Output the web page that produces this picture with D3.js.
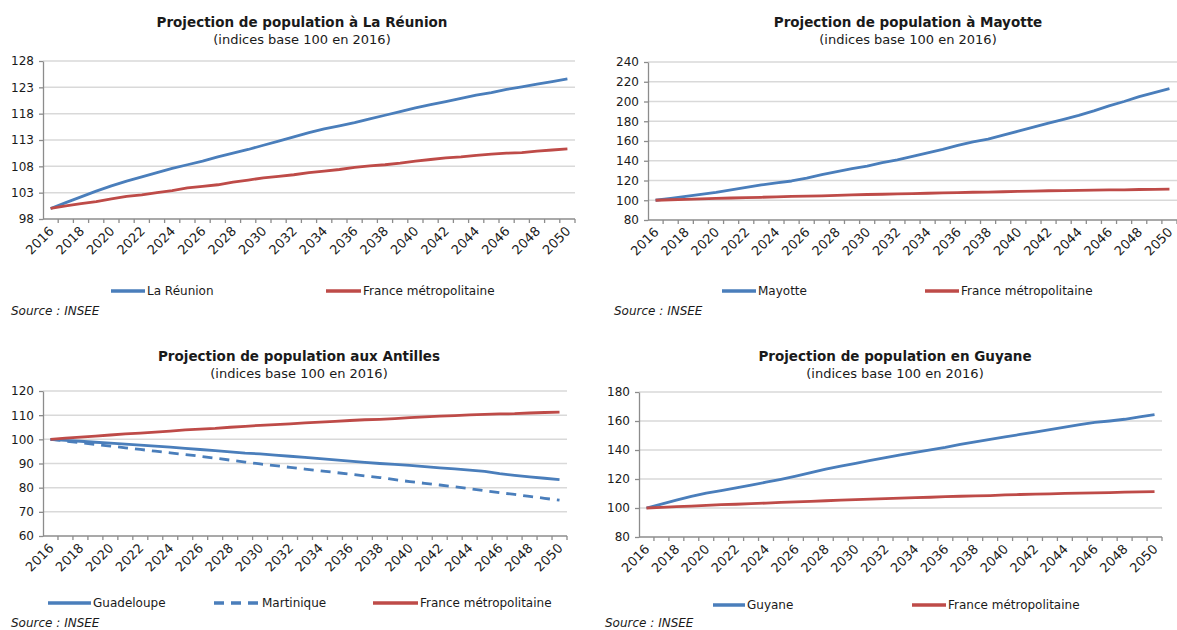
<!doctype html>
<html>
<head>
<meta charset="UTF-8">
<title>Projections de population</title>
<script src="https://d3js.org/d3.v7.min.js"></script>
<style>
	body {
		margin: 0;
		background: #fff;
	}
	.chart text {
		font-family: 'DejaVu Sans', sans-serif;
		fill: #1a1a1a;
	}
	.grid line {
		stroke: #d9d9d9;
		stroke-width: 1.5;
	}
	.axis path, .axis line {
		stroke: #8c8c8c;
		stroke-width: 1.3;
	}
	.axis text {
		font-size: 12px;
	}
	.axis .xl {
		font-size: 13px;
	}
	.title {
		font-size: 13.5px;
		font-weight: bold;
	}
	.subtitle {
		font-size: 13px;
	}
	.legend text {
		font-size: 12px;
	}
	.source {
		font-size: 12px;
		font-style: italic;
	}
	.serie {
		fill: none;
		stroke-width: 2.8;
		stroke-linejoin: round;
	}
</style>
</head>

<body>
<svg class="chart" width="1177" height="630"></svg>
<script>
var years = [2016, 2017, 2018, 2019, 2020, 2021, 2022, 2023, 2024, 2025,
	2026, 2027, 2028, 2029, 2030, 2031, 2032, 2033, 2034, 2035,
	2036, 2037, 2038, 2039, 2040, 2041, 2042, 2043, 2044, 2045,
	2046, 2047, 2048, 2049, 2050];
var yearLabels = [2016, 2018, 2020, 2022, 2024, 2026, 2028, 2030, 2032,
	2034, 2036, 2038, 2040, 2042, 2044, 2046, 2048, 2050];

var france = [100, 100.5, 100.9, 101.3, 101.8, 102.3, 102.6, 103.0, 103.4, 103.9,
	104.2, 104.5, 105.0, 105.4, 105.8, 106.1, 106.4, 106.8, 107.1, 107.4,
	107.8, 108.1, 108.3, 108.6, 109.0, 109.3, 109.6, 109.8, 110.1, 110.3,
	110.5, 110.6, 110.9, 111.1, 111.3];
var reunion = [100, 101.1, 102.2, 103.3, 104.3, 105.2, 106.0, 106.8, 107.6, 108.3,
	109.0, 109.8, 110.5, 111.2, 112.0, 112.8, 113.6, 114.4, 115.1, 115.7,
	116.3, 117.0, 117.7, 118.4, 119.1, 119.7, 120.3, 120.9, 121.5, 122.0,
	122.6, 123.1, 123.6, 124.1, 124.6];
var mayotte = [100, 102, 104, 106, 108, 110.5, 113, 115.5, 117.5, 119.5,
	122.5, 126, 129, 132, 134.5, 138, 141, 144.5, 148, 151.5,
	155.5, 159, 162, 166, 170, 174, 178, 182, 186, 190.5,
	195.5, 200, 205, 209, 213];
var guadeloupe = [100, 99.6, 99.2, 98.8, 98.4, 98.0, 97.6, 97.2, 96.8, 96.3,
	95.8, 95.3, 94.8, 94.3, 94.0, 93.5, 93.0, 92.5, 92.0, 91.5,
	91.0, 90.5, 90.0, 89.6, 89.2, 88.7, 88.2, 87.8, 87.3, 86.7,
	85.8, 85.1, 84.5, 83.9, 83.3];
var martinique = [100, 99.3, 98.6, 97.9, 97.2, 96.5, 95.8, 95.1, 94.4, 93.7,
	93.0, 92.2, 91.4, 90.6, 89.8, 89.1, 88.4, 87.7, 87.0, 86.3,
	85.6, 84.9, 84.2, 83.3, 82.5, 81.8, 81.1, 80.4, 79.6, 78.7,
	77.9, 77.2, 76.4, 75.6, 74.8];
var guyane = [100, 102.7, 105.4, 108.0, 110.3, 112.0, 113.8, 115.8, 117.8, 119.8,
	122.0, 124.4, 126.8, 128.9, 130.8, 132.8, 134.8, 136.6, 138.4, 140.1,
	141.8, 143.8, 145.6, 147.3, 149.0, 150.7, 152.4, 154.1, 155.8, 157.5,
	159.0, 160.0, 161.2, 162.8, 164.4];

var ticksReunion = [98, 103, 108, 113, 118, 123, 128];
var ticksMayotte = [80, 100, 120, 140, 160, 180, 200, 220, 240];
var ticksAntilles = [60, 70, 80, 90, 100, 110, 120];
var ticksGuyane = [80, 100, 120, 140, 160, 180];

var BLUE = '#4a7ebb';
var RED = '#be4b48';
var chart = d3.select('.chart');

var panels = [
	{
		title: 'Projection de population à La Réunion',
		cx: 302, titleY: 27,
		left: 43, right: 575, top: 61, bottom: 219,
		ticks: ticksReunion,
		series: [
			{name: 'La Réunion', values: reunion, color: BLUE, lx: 111, tx: 147},
			{name: 'France métropolitaine', values: france, color: RED, lx: 326, tx: 363}
		],
		legendY: 291, sourceX: 11, sourceY: 315
	},
	{
		title: 'Projection de population à Mayotte',
		cx: 908, titleY: 27,
		left: 648, right: 1177, top: 62, bottom: 220,
		ticks: ticksMayotte,
		series: [
			{name: 'Mayotte', values: mayotte, color: BLUE, lx: 722, tx: 758},
			{name: 'France métropolitaine', values: france, color: RED, lx: 925, tx: 961}
		],
		legendY: 291, sourceX: 614, sourceY: 315
	},
	{
		title: 'Projection de population aux Antilles',
		cx: 299, titleY: 361,
		left: 43, right: 567, top: 391, bottom: 536,
		ticks: ticksAntilles,
		series: [
			{name: 'Guadeloupe', values: guadeloupe, color: BLUE, lx: 48, tx: 93},
			{name: 'Martinique', values: martinique, color: BLUE, dash: '10,7', lx: 214, tx: 262},
			{name: 'France métropolitaine', values: france, color: RED, lx: 373, tx: 420}
		],
		legendY: 603, sourceX: 11, sourceY: 627
	},
	{
		title: 'Projection de population en Guyane',
		cx: 895, titleY: 361,
		left: 639, right: 1162, top: 392, bottom: 537,
		ticks: ticksGuyane,
		series: [
			{name: 'Guyane', values: guyane, color: BLUE, lx: 713, tx: 747},
			{name: 'France métropolitaine', values: france, color: RED, lx: 912, tx: 948}
		],
		legendY: 605, sourceX: 605, sourceY: 627
	}
];

panels.forEach(drawPanel);

function drawPanel(p) {
	var x = d3.scaleBand()
		.domain(years)
		.range([p.left, p.right]);
	var y = d3.scaleLinear()
		.domain([p.ticks[0], p.ticks[p.ticks.length - 1]])
		.range([p.bottom, p.top]);
	var cx = function(d) {
		return x(d) + x.bandwidth() / 2;
	};
	var g = chart.append('g');

	g.append('text')
		.attr('class', 'title')
		.attr('x', p.cx)
		.attr('y', p.titleY)
		.attr('text-anchor', 'middle')
		.text(p.title);
	g.append('text')
		.attr('class', 'subtitle')
		.attr('x', p.cx)
		.attr('y', p.titleY + 17)
		.attr('text-anchor', 'middle')
		.text('(indices base 100 en 2016)');

	g.append('g')
		.attr('class', 'grid')
		.selectAll('line')
		.data(p.ticks.slice(1))
		.enter().append('line')
		.attr('x1', p.left)
		.attr('x2', p.right)
		.attr('y1', function(d) { return y(d); })
		.attr('y2', function(d) { return y(d); });

	g.append('g')
		.attr('class', 'axis')
		.attr('transform', 'translate(' + p.left + ',0)')
		.call(d3.axisLeft(y).tickValues(p.ticks).tickSize(4).tickSizeOuter(0).tickPadding(5));

	// axe des x : ticks entre les catégories, libellés tous les 2 ans
	var xa = g.append('g').attr('class', 'axis');
	xa.append('line')
		.attr('x1', p.left).attr('x2', p.right)
		.attr('y1', p.bottom).attr('y2', p.bottom);
	xa.selectAll('.tk')
		.data(years)
		.enter().append('line')
		.attr('x1', function(d) { return x(d) + x.bandwidth(); })
		.attr('x2', function(d) { return x(d) + x.bandwidth(); })
		.attr('y1', p.bottom)
		.attr('y2', p.bottom + 4);
	xa.selectAll('.xl')
		.data(yearLabels)
		.enter().append('text')
		.attr('class', 'xl')
		.attr('text-anchor', 'end')
		.attr('transform', function(d) {
			return 'translate(' + (cx(d) + 4) + ',' + (p.bottom + 13) + ') rotate(-45)';
		})
		.text(function(d) { return d; });

	var line = d3.line()
		.x(function(d, i) { return cx(years[i]); })
		.y(function(d) { return y(d); });

	p.series.forEach(function(s) {
		g.append('path')
			.attr('class', 'serie')
			.attr('d', line(s.values))
			.attr('stroke', s.color)
			.attr('stroke-dasharray', s.dash || null);
	});

	var lg = g.append('g').attr('class', 'legend');
	p.series.forEach(function(s) {
		lg.append('line')
			.attr('x1', s.lx)
			.attr('x2', s.tx - 2)
			.attr('y1', p.legendY)
			.attr('y2', p.legendY)
			.attr('stroke', s.color)
			.attr('stroke-width', 3.5)
			.attr('stroke-dasharray', s.dash || null);
		lg.append('text')
			.attr('x', s.tx)
			.attr('y', p.legendY + 4)
			.text(s.name);
	});

	g.append('text')
		.attr('class', 'source')
		.attr('x', p.sourceX)
		.attr('y', p.sourceY)
		.text('Source : INSEE');
}
</script>
</body>
</html>
